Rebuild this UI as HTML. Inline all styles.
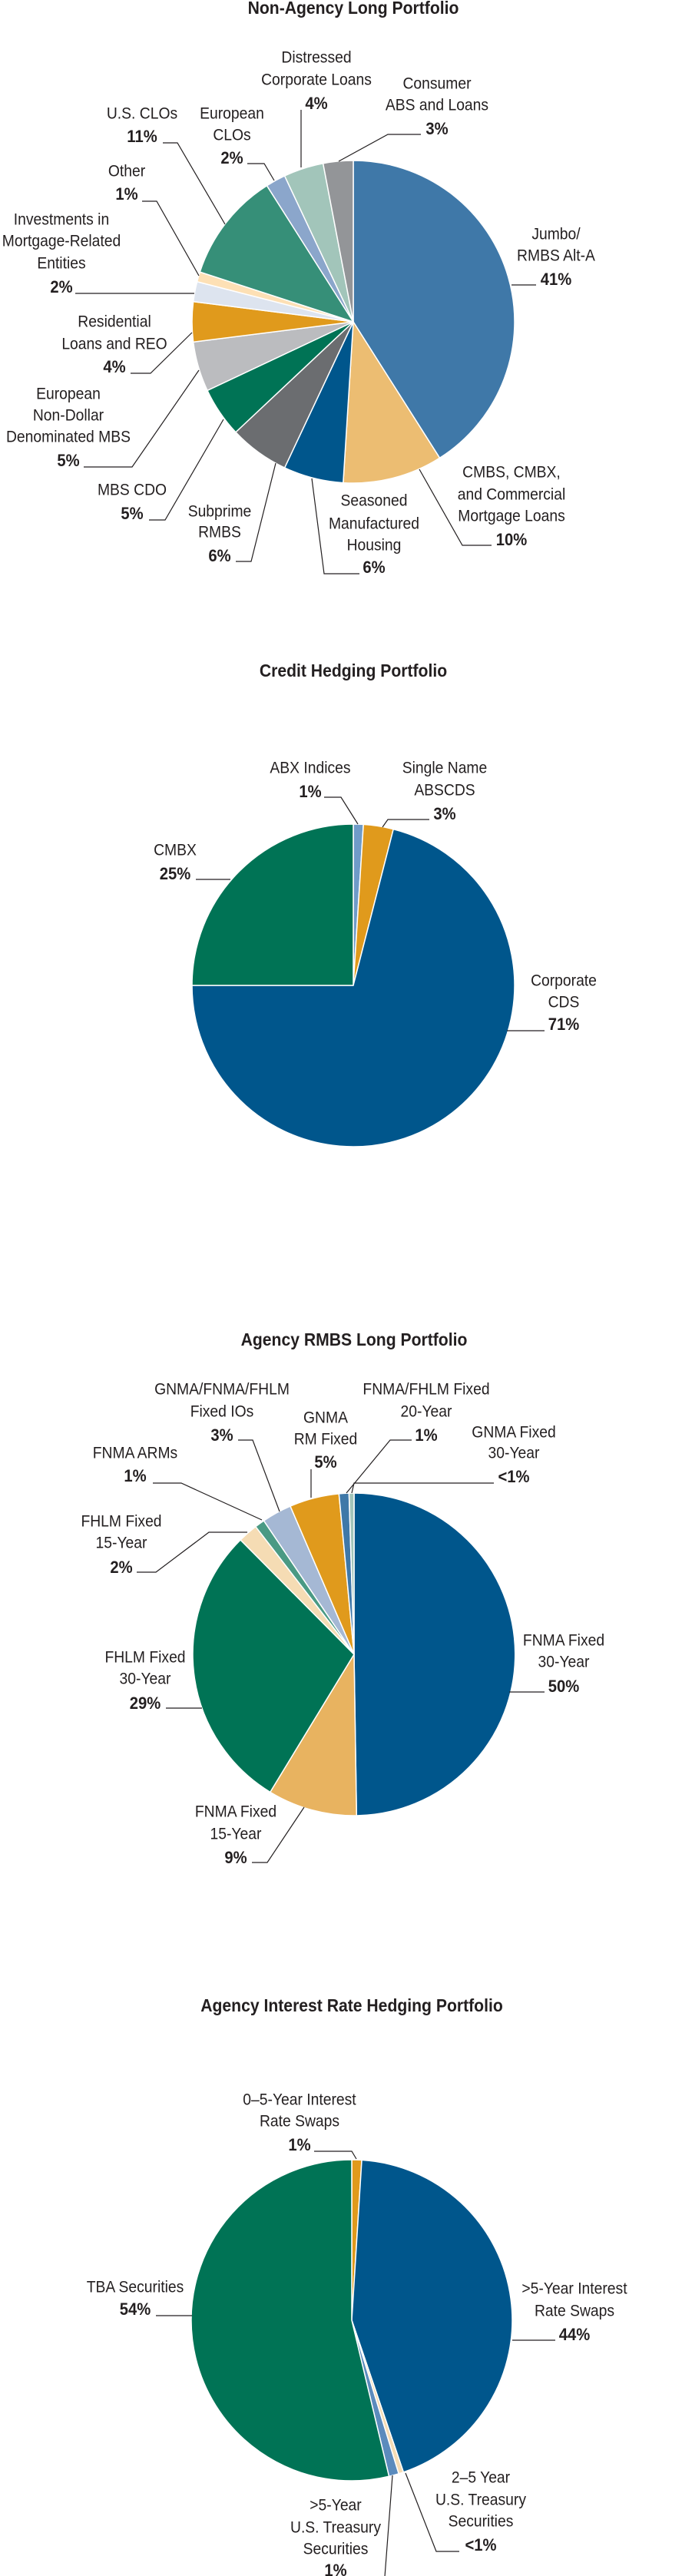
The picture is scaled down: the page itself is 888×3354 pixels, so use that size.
<!DOCTYPE html>
<html><head><meta charset="utf-8"><style>
html,body{margin:0;padding:0;background:#fff;}
svg{display:block;}
text{font-family:"Liberation Sans Narrow","Liberation Sans",sans-serif;fill:#231f20;}
.t{font-weight:bold;font-size:23px;}
.l{font-size:21px;}
.p{font-size:22px;font-weight:bold;}
</style></head><body>
<svg id="chart" width="888" height="3354" viewBox="0 0 888 3354" xmlns="http://www.w3.org/2000/svg"></svg>
<script>
// ---- Chart 1: Non-Agency Long Portfolio ----
const c1Categories = ["Jumbo/RMBS Alt-A","CMBS, CMBX, and Commercial Mortgage Loans","Seasoned Manufactured Housing","Subprime RMBS","MBS CDO","European Non-Dollar Denominated MBS","Residential Loans and REO","Investments in Mortgage-Related Entities","Other","U.S. CLOs","European CLOs","Distressed Corporate Loans","Consumer ABS and Loans"];
const c1Values = [41,10,6,6,5,5,4,2,1,11,2,4,3];
const c1Colors = ["#3f78a8","#ecbd72","#00568c","#6b6d70","#007355","#bbbcbf","#e09a1c","#dde4ef","#fde0b5","#368f78","#8ba6cb","#a2c5ba","#939598"];
// ---- Chart 2: Credit Hedging Portfolio ----
const c2Categories = ["ABX Indices","Single Name ABSCDS","Corporate CDS","CMBX"];
const c2Values = [1,3,71,25];
const c2Colors = ["#6f9bc8","#e09a1c","#00568c","#007355"];
// ---- Chart 3: Agency RMBS Long Portfolio ----
const c3Categories = ["FNMA Fixed 30-Year","FNMA Fixed 15-Year","FHLM Fixed 30-Year","FHLM Fixed 15-Year","FNMA ARMs","GNMA/FNMA/FHLM Fixed IOs","GNMA RM Fixed","FNMA/FHLM Fixed 20-Year","GNMA Fixed 30-Year"];
const c3Values = [50,9,29,2,1,3,5,1,0.5];
const c3Colors = ["#00568c","#e8b360","#007355","#f5dcb4","#4a9a84","#a5b8d4","#e09a1c","#3f78a8","#a2c5ba"];
// ---- Chart 4: Agency Interest Rate Hedging Portfolio ----
const c4Categories = ["0-5-Year Interest Rate Swaps",">5-Year Interest Rate Swaps","2-5 Year U.S. Treasury Securities",">5-Year U.S. Treasury Securities","TBA Securities"];
const c4Values = [1,44,0.5,1,54];
const c4Colors = ["#e09a1c","#00568c","#f5dcb4","#5b8bbd","#007355"];

const NS="http://www.w3.org/2000/svg";
const svg=document.getElementById('chart');
const SX=0.92;
function mk(tag,attrs){const e=document.createElementNS(NS,tag);for(const k in attrs)e.setAttribute(k,attrs[k]);return e;}
function squeeze(x){return `translate(${x},0) scale(${SX},1) translate(${-x},0)`;}

function angleScale(values){const tot=values.reduce((a,b)=>a+b,0);return v=>v/tot*Math.PI*2;}
function pt(cx,cy,r,a){return [cx+r*Math.sin(a),cy-r*Math.cos(a)];}

function drawPie(name,cx,cy,r,cats,vals,cols){
  const g=mk('g',{});
  
  
  svg.appendChild(g);
  const sc=angleScale(vals);
  let a0=0;
  vals.forEach((v,i)=>{
    const a1=a0+sc(v);
    const p0=pt(cx,cy,r,a0),p1=pt(cx,cy,r,a1);
    const large=(a1-a0)>Math.PI?1:0;
    const d=`M${cx},${cy}L${p0[0].toFixed(2)},${p0[1].toFixed(2)}A${r},${r} 0 ${large} 1 ${p1[0].toFixed(2)},${p1[1].toFixed(2)}Z`;
    const s=mk('path',{d:d,fill:cols[i],stroke:'#fff','stroke-width':'1.5','stroke-linejoin':'round'});
    
    
    g.appendChild(s);
    a0=a1;
  });
}

function title(txt,x,y){
  const t=mk('text',{x:x,y:y,'text-anchor':'middle',class:'t',transform:squeeze(x)});
  
  
  t.textContent=txt;svg.appendChild(t);
}
function label(name,x,ys,lines,pct,leader){
  const g=mk('g',{});
  
  
  svg.appendChild(g);
  lines.forEach((ln,i)=>{
    const t=mk('text',{x:x,y:ys[i]+7.5,'text-anchor':'middle',class:'l',transform:squeeze(x)});
    t.textContent=ln;g.appendChild(t);
  });
  const p=mk('text',{x:x,y:ys[lines.length]+8,'text-anchor':'middle',class:'p',transform:squeeze(x)});
  p.textContent=pct;g.appendChild(p);
  const pl=mk('polyline',{points:leader.map(q=>q.join(',')).join(' '),fill:'none',stroke:'#231f20','stroke-width':'1.2'});
  
  
  g.appendChild(pl);
}

// Chart 1
title("Non-Agency Long Portfolio",460,18);
drawPie("non-agency-pie",460,419,210,c1Categories,c1Values,c1Colors);
label("label-distressed",412,[74,103,134],["Distressed","Corporate Loans"],"4%",[[392,143],[392,218]]);
label("label-consumer",569,[108,136,167],["Consumer","ABS and Loans"],"3%",[[548,175],[505,175],[441,210]]);
label("label-us-clos",185,[147,177],["U.S. CLOs"],"11%",[[212,186],[231,186],[293,292]]);
label("label-european-clos",302,[147,175,205],["European","CLOs"],"2%",[[322,213],[344,213],[357,235]]);
label("label-other",165,[222,252],["Other"],"1%",[[185,262],[204,262],[259,359]]);
label("label-investments",80,[285,313,342,373],["Investments in","Mortgage-Related","Entities"],"2%",[[98,382],[253,382]]);
label("label-residential",149,[418,447,477],["Residential","Loans and REO"],"4%",[[170,486],[196,486],[250,433]]);
label("label-european-non-dollar",89,[512,540,568,599],["European","Non-Dollar","Denominated MBS"],"5%",[[109,608],[172,608],[259,482]]);
label("label-mbs-cdo",172,[637,668],["MBS CDO"],"5%",[[194,677],[215,677],[291,546]]);
label("label-subprime",286,[665,692,723],["Subprime","RMBS"],"6%",[[307,731],[327,731],[359,603]]);
label("label-seasoned",487,[651,681,709,738],["Seasoned","Manufactured","Housing"],"6%",[[468,747],[422,747],[406,623]]);
label("label-cmbs",666,[614,643,671,702],["CMBS, CMBX,","and Commercial","Mortgage Loans"],"10%",[[640,710],[602,710],[546,611]]);
label("label-jumbo",724,[304,332,363],["Jumbo/","RMBS Alt-A"],"41%",[[698,371],[666,371]]);

// Chart 2
title("Credit Hedging Portfolio",460,881);
drawPie("credit-hedging-pie",460,1283,210,c2Categories,c2Values,c2Colors);
label("label-abx",404,[999,1030],["ABX Indices"],"1%",[[422,1038],[444,1038],[466,1073]]);
label("label-single-name",579,[999,1028,1059],["Single Name","ABSCDS"],"3%",[[559,1067],[505,1067],[498,1077]]);
label("label-cmbx",228,[1106,1137],["CMBX"],"25%",[[255,1145],[300,1145]]);
label("label-corporate-cds",734,[1276,1304,1333],["Corporate","CDS"],"71%",[[709,1342],[660,1342]]);

// Chart 3
title("Agency RMBS Long Portfolio",461,1752);
drawPie("agency-rmbs-pie",461,2154,210,c3Categories,c3Values,c3Colors);
label("label-ios",289,[1808,1837,1868],["GNMA/FNMA/FHLM","Fixed IOs"],"3%",[[310,1875],[329,1875],[364,1968]]);
label("label-gnma-rm",424,[1845,1873,1903],["GNMA","RM Fixed"],"5%",[[405,1913],[405,1950]]);
label("label-20-year",555,[1808,1837,1868],["FNMA/FHLM Fixed","20-Year"],"1%",[[536,1875],[508,1875],[451,1944]]);
label("label-gnma-30",669,[1864,1891,1922],["GNMA Fixed","30-Year"],"<1%",[[643,1931],[461,1931],[458,1944]]);
label("label-fnma-arms",176,[1891,1921],["FNMA ARMs"],"1%",[[199,1931],[236,1931],[341,1979]]);
label("label-fhlm-15",158,[1980,2008,2040],["FHLM Fixed","15-Year"],"2%",[[178,2047],[203,2047],[272,1995],[322,1995]]);
label("label-fhlm-30",189,[2157,2185,2217],["FHLM Fixed","30-Year"],"29%",[[216,2224],[263,2224]]);
label("label-fnma-15",307,[2358,2387,2418],["FNMA Fixed","15-Year"],"9%",[[328,2425],[348,2425],[396,2353]]);
label("label-fnma-30",734,[2135,2163,2195],["FNMA Fixed","30-Year"],"50%",[[709,2203],[663,2203]]);

// Chart 4
title("Agency Interest Rate Hedging Portfolio",458,2619);
drawPie("agency-hedging-pie",458,3021,209,c4Categories,c4Values,c4Colors);
label("label-0-5-swaps",390,[2733,2761,2792],["0–5-Year Interest","Rate Swaps"],"1%",[[409,2801],[458,2801],[464,2811]]);
label("label-tba",176,[2977,3006],["TBA Securities"],"54%",[[203,3015],[250,3015]]);
label("label-5-swaps",748,[2979,3008,3039],[">5-Year Interest","Rate Swaps"],"44%",[[723,3047],[667,3047]]);
label("label-2-5-treasury",626,[3225,3254,3282,3313],["2–5 Year","U.S. Treasury","Securities"],"<1%",[[598,3322],[568,3322],[528,3220]]);
label("label-5-treasury",437,[3261,3290,3318,3346],[">5-Year","U.S. Treasury","Securities"],"1%",[[457,3355],[501,3355],[511,3223]]);
</script>
</body></html>
